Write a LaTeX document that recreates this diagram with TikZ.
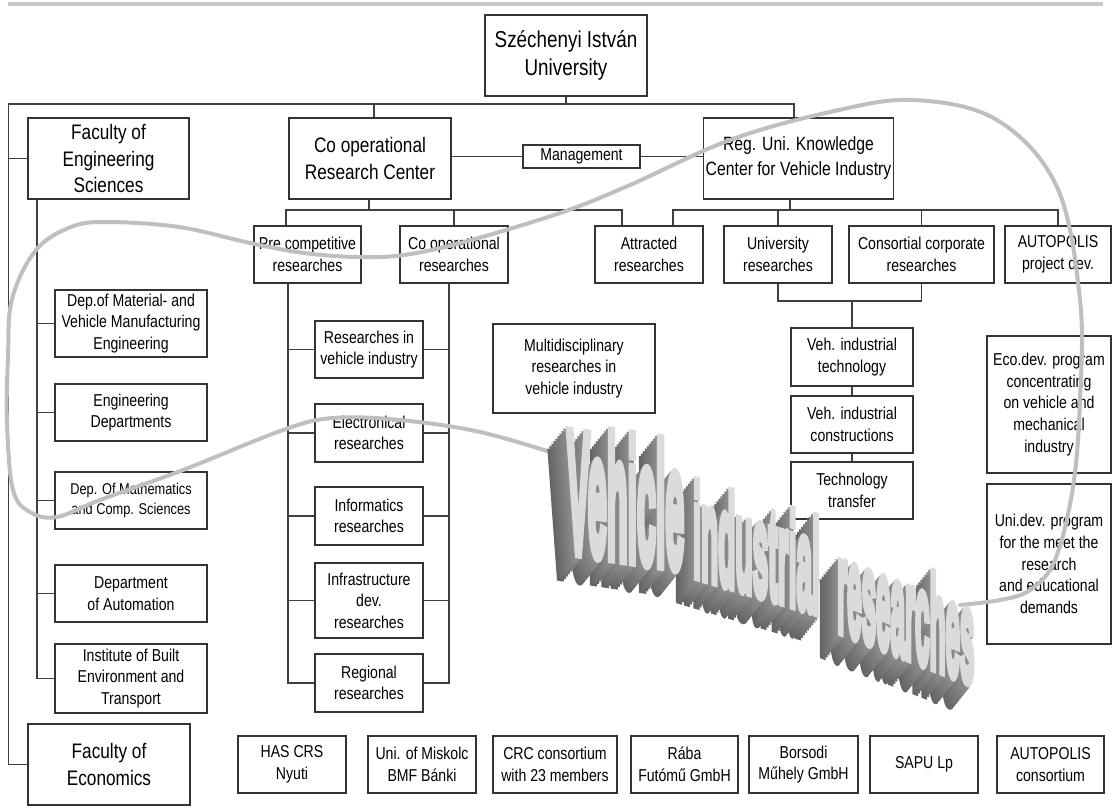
\documentclass[tikz,border=0pt]{standalone}
\usepackage{fontspec}
\setmainfont{Liberation Sans}[FakeStretch=0.82]
\newfontfamily\wordfont{Liberation Sans}[BoldFeatures={FakeBold=8}]

\newcommand\chartfont{\fontsize{8.6}{10.8}\selectfont}
\newcommand\headfont{\fontsize{10.5}{13.3}\selectfont}

\tikzset{
  box/.style={draw=black!80, line width=0.65pt, fill=white, align=center, inner sep=1pt, font=\chartfont},
  head/.style={box, font=\headfont},
  boxdim/.style 2 args={minimum width=#1*0.5pt, minimum height=#2*0.5pt},
  link/.style={draw=black!75, line width=0.65pt},
  trace/.style={draw=black!25, line width=2pt, line cap=round},
  wordart/.style={font=\wordfont\bfseries\fontsize{#1}{#1}\selectfont, inner sep=0pt, anchor=base west},
}

\begin{document}
\begin{tikzpicture}[x=0.5pt, y=-0.5pt]

	\useasboundingbox (0,0) rectangle (1113,809);

	% grey rule on top
	\draw[black!22, line width=2pt] (8,4) -- (1103,4);

	% top of the chart
	\node[head, boxdim={162}{81}, font=\fontsize{11.5}{14}\selectfont] (uni) at (566,55.5) {Széchenyi István\\University};
	\node[head, boxdim={161}{81}] (foe) at (108.5,158.5) {Faculty of\\Engineering\\Sciences};
	\node[head, boxdim={162}{81}] (crc) at (370,158.5) {Co operational\\Research Center};
	\node[box, boxdim={117}{23}] (mgmt) at (581.5,156.5) {Management};
	\node[head, boxdim={189}{81}, font=\fontsize{9.6}{12.5}\selectfont] (rkc) at (798.5,158.5) {Reg. Uni. Knowledge\\Center for Vehicle Industry};

	% research branches
	\node[box, boxdim={107}{57}] (pre) at (307.5,254.5) {Pre competitive\\researches};
	\node[box, boxdim={108}{57}] (coop) at (454,254.5) {Co operational\\researches};
	\node[box, boxdim={108}{57}] (attr) at (649,254.5) {Attracted\\researches};
	\node[box, boxdim={108}{57}] (univr) at (778,254.5) {University\\researches};
	\node[box, boxdim={145}{57}] (cons) at (921.5,254.5) {Consortial corporate\\researches};
	\node[box, boxdim={106}{57}] (autp) at (1058,254.5) {AUTOPOLIS\\project dev.};

	% departments
	\node[box, boxdim={152}{67}] (dmat) at (131,323.5) {Dep.of Material- and\\Vehicle Manufacturing\\Engineering};
	\node[box, boxdim={152}{57}] (deng) at (131,412.5) {Engineering\\Departments};
	\node[box, boxdim={152}{57}, font=\fontsize{7.8}{10}\selectfont] (dmath) at (131,500.5) {Dep. Of Mathematics\\and Comp. Sciences};
	\node[box, boxdim={152}{57}] (dauto) at (131,593.5) {Department\\of Automation};
	\node[box, boxdim={152}{69}] (dinst) at (131,678.5) {Institute of Built\\Environment and\\Transport};
	\node[head, boxdim={162}{81}] (foec) at (109,764.5) {Faculty of\\Economics};

	% research fields
	\node[box, boxdim={108}{57}] (rveh) at (369,349.5) {Researches in\\vehicle industry};
	\node[box, boxdim={108}{58}] (rel) at (369,433) {Electronical\\researches};
	\node[box, boxdim={108}{58}] (rinf) at (369,516) {Informatics\\researches};
	\node[box, boxdim={108}{75}] (rinfra) at (369,600.5) {Infrastructure\\dev.\\researches};
	\node[box, boxdim={108}{58}] (rreg) at (369,683) {Regional\\researches};

	\node[box, boxdim={162}{89}] (multi) at (574,368.5) {Multidisciplinary\\researches in\\vehicle industry};

	\node[box, boxdim={122}{58}] (vtech) at (852,357) {Veh. industrial\\technology};
	\node[box, boxdim={122}{57}] (vcons) at (852,424.5) {Veh. industrial\\constructions};
	\node[box, boxdim={122}{57}] (ttr) at (852,490.5) {Technology\\transfer};

	\node[box, boxdim={124}{137}] (ecod) at (1049,404.5) {Eco.dev. program\\concentrating\\on vehicle and\\mechanical\\industry};
	\node[box, boxdim={124}{160}] (unid) at (1049,564) {Uni.dev. program\\for the meet the\\research\\and educational\\demands};

	% partners
	\node[box, boxdim={108}{57}] (has) at (292,764.5) {HAS CRS\\Nyuti};
	\node[box, boxdim={108}{57}] (misk) at (422,764.5) {Uni. of Miskolc\\BMF Bánki};
	\node[box, boxdim={124}{57}] (crcc) at (555,764.5) {CRC consortium\\with 23 members};
	\node[box, boxdim={107}{57}] (raba) at (684.5,764.5) {Rába\\Futómű GmbH};
	\node[box, boxdim={109}{57}] (bors) at (803.5,764.5) {Borsodi\\Műhely GmbH};
	\node[box, boxdim={108}{57}] (sapu) at (924,764.5) {SAPU Lp};
	\node[box, boxdim={107}{57}] (autc) at (1050.5,764.5) {AUTOPOLIS\\consortium};

	\coordinate (tl) at (8.6,104);
	\coordinate (tr) at (794,104);
	\coordinate (ct) at (374,104);
	\coordinate (cb) at (369,210);
	\coordinate (cbl) at (286,210);
	\coordinate (cbr) at (622,210);
	\coordinate (rb) at (790,210);
	\coordinate (rbl) at (673,210);
	\coordinate (rbr) at (1058,210);
	\coordinate (vb) at (852,301);
	\coordinate (fs) at (37,0);
	\coordinate (pl) at (288,0);
	\coordinate (pr) at (449,0);

	% Draw the main tree
	\draw[link] (uni.south) -- (uni.south |- tl);
	\draw[link] (foec.west) -| (tl) -- (tr) -- (tr |- rkc.north);
	\draw[link] (foe.west) -- (foe.west -| tl);
	\draw[link] (ct) -- (ct |- crc.north);
	\draw[link] (crc.east |- mgmt.west) -- (mgmt.west);
	\draw[link] (mgmt.east) -- (mgmt.east -| rkc.west);

	% Draw the research branches
	\draw[link] (cb |- crc.south) -- (cb);
	\draw[link] (cbl |- pre.north) -- (cbl) -- (cbr) -- (cbr |- attr.north);
	\draw[link] (coop.north) -- (coop.north |- cbl);
	\draw[link] (rb |- rkc.south) -- (rb);
	\draw[link] (rbl |- attr.north) -- (rbl) -- (rbr) -- (rbr |- autp.north);
	\draw[link] (univr.north) -- (univr.north |- rb);
	\draw[link] (cons.north) -- (cons.north |- rb);
	\draw[link] (univr.south) -- (univr.south |- vb) -- (cons.south |- vb) -- (cons.south);
	\draw[link] (vb) -- (vtech.north);
	\draw[link] (vtech.south) -- (vcons.north);
	\draw[link] (vcons.south) -- (ttr.north);

	% Draw the departments
	\draw[link] (foe.south -| fs) -- (fs |- dinst.west) -- (dinst.west);
	\foreach \d in {dmat,deng,dmath,dauto}
		\draw[link] (fs |- \d.west) -- (\d.west);

	% Draw the research fields
	\draw[link] (pre.south -| pl) -- (pl |- rreg.west) -- (rreg.west);
	\draw[link] (coop.south -| pr) -- (pr |- rreg.east) -- (rreg.east);
	\foreach \r in {rveh,rel,rinf,rinfra}{
		\draw[link] (pl |- \r.west) -- (\r.west);
		\draw[link] (\r.east) -- (pr |- \r.east);
	}

	% grey loop
	\draw[trace] plot[smooth, tension=0.6] coordinates {
		(560,455) (480,432) (400,420) (333,418) (283,430) (183,470) (100,500)
		(57,517) (30,512) (13,490) (7,423) (8,357) (12,299) (36,250) (71,227)
		(107,222) (179,227) (250,243) (304,253) (357,257) (404,255) (464,242)
		(560,213) (630,185) (730,140) (830,112) (913,100) (997,120) (1057,187)
		(1080,300) (1080,400) (1073,487) (1055,560) (1030,590) (1000,600) (960,605)};

	% 3d title
	\foreach \k [evaluate=\k as \c using 44+1.8*\k] in {9,...,1}{
		\node[wordart=85, text=black!\c, yslant=-0.15, xscale=0.2] (wv\k) at (567-2*\k,550+2.5*\k) {Vehicle};
		\node[wordart=65, text=black!\c, yslant=-0.3, xscale=0.217] (wi\k) at (693-2*\k,575+2.5*\k) {industrial};
		\node[wordart=65, text=black!\c, yslant=-0.39, xscale=0.2] (wr\k) at (837-2*\k,630+2.5*\k) {researches};
	}
	\node[wordart=85, text=black!14, yslant=-0.15, xscale=0.2] (wv) at (567,550) {Vehicle};
	\node[wordart=65, text=black!14, yslant=-0.3, xscale=0.217] (wi) at (693,575) {industrial};
	\node[wordart=65, text=black!14, yslant=-0.39, xscale=0.2] (wr) at (837,630) {researches};

\end{tikzpicture}
\end{document}
